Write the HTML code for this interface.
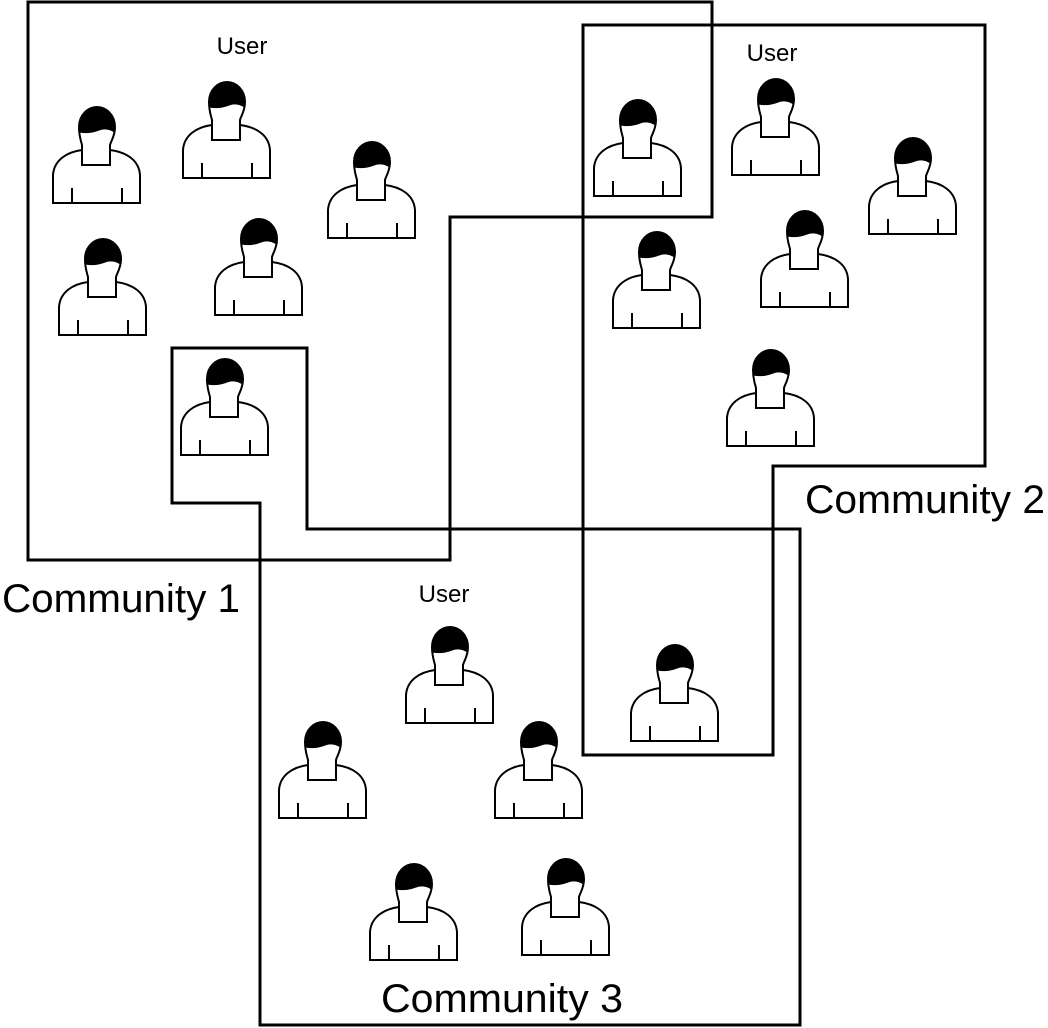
<!DOCTYPE html>
<html><head><style>body{margin:0;background:#fff}svg{display:block}</style></head>
<body>
<svg width="1048" height="1028" viewBox="0 0 1048 1028" xmlns="http://www.w3.org/2000/svg">
<defs>
<g id="u" stroke="#000" stroke-width="2">
<path d="M29,45 C14,47 1,55 0,70 L0,98 L87,98 L87,70 C86,55 73,47 57,45 Z" fill="#fff"/>
<path d="M19,83 L19,98 M69,83 L69,98" fill="none"/>
<path d="M26,22 C26,10 35,2 44,2 C53,2 62,10 62,22 C62,31 58,36 57,40 L57,60 L29,60 L29,40 C28,36 26,31 26,22 Z" fill="#fff"/>
<path d="M26.5,27 C26,10 35,2 44,2 C53,2 62,10 61.5,27 Q54,22 46,25 Q36,29 26.5,27 Z" fill="#000" stroke-width="1"/>
</g>
</defs>
<g fill="none" stroke="#000" stroke-width="3">
<path d="M28,2 H712 V217 H450 V560 H28 Z"/>
<path d="M583,25 H985 V466 H773 V755 H583 Z"/>
<path d="M172,348 H307 V529 H800 V1025 H260 V503 H172 Z"/>
</g>
<use href="#u" x="53" y="105"/>
<use href="#u" x="183" y="80"/>
<use href="#u" x="328" y="140"/>
<use href="#u" x="59" y="237"/>
<use href="#u" x="215" y="217"/>
<use href="#u" x="181" y="357"/>
<use href="#u" x="594" y="98"/>
<use href="#u" x="732" y="77"/>
<use href="#u" x="869" y="136"/>
<use href="#u" x="613" y="230"/>
<use href="#u" x="761" y="209"/>
<use href="#u" x="727" y="348"/>
<use href="#u" x="406" y="625"/>
<use href="#u" x="631" y="643"/>
<use href="#u" x="279" y="720"/>
<use href="#u" x="495" y="720"/>
<use href="#u" x="370" y="862"/>
<use href="#u" x="522" y="857"/>
<g font-family="Liberation Sans, sans-serif" fill="#000">
<text x="242" y="54" font-size="24" text-anchor="middle">User</text>
<text x="772" y="61" font-size="24" text-anchor="middle">User</text>
<text x="444" y="602" font-size="24" text-anchor="middle">User</text>
<text x="2" y="612" font-size="40" textLength="238" lengthAdjust="spacingAndGlyphs">Community 1</text>
<text x="805" y="513" font-size="40" textLength="240" lengthAdjust="spacingAndGlyphs">Community 2</text>
<text x="381" y="1012" font-size="40" textLength="242" lengthAdjust="spacingAndGlyphs">Community 3</text>
</g>
</svg>
</body></html>
